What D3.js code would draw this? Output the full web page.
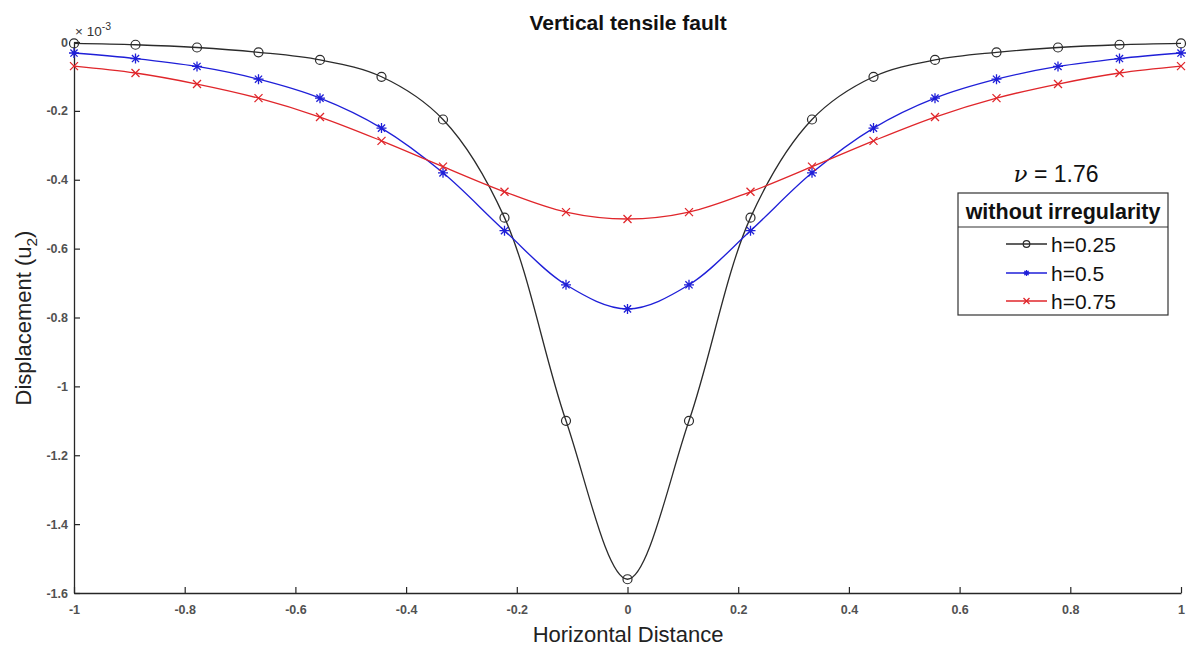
<!DOCTYPE html>
<html><head><meta charset="utf-8">
<script src="https://cdn.jsdelivr.net/npm/d3@7"></script>
<style>
body{margin:0;background:#fff;}
text{font-family:"Liberation Sans",Arial,Helvetica,sans-serif;}
</style></head>
<body><svg id="chart" width="1188" height="648"></svg>
<script>
// Data (values in units of 1e-3)
const xValues = [-1,-8/9,-7/9,-6/9,-5/9,-4/9,-3/9,-2/9,-1/9,0,1/9,2/9,3/9,4/9,5/9,6/9,7/9,8/9,1];
const h025 = [-0.004,-0.008,-0.016,-0.03,-0.052,-0.101,-0.225,-0.51,-1.10,-1.56,-1.10,-0.51,-0.225,-0.101,-0.052,-0.03,-0.016,-0.008,-0.004];
const h05  = [-0.032,-0.048,-0.071,-0.108,-0.163,-0.25,-0.38,-0.548,-0.705,-0.775,-0.705,-0.548,-0.38,-0.25,-0.163,-0.108,-0.071,-0.048,-0.032];
const h075 = [-0.07,-0.09,-0.122,-0.163,-0.218,-0.287,-0.362,-0.435,-0.494,-0.514,-0.494,-0.435,-0.362,-0.287,-0.218,-0.163,-0.122,-0.09,-0.07];
const seriesNames = ["h=0.25","h=0.5","h=0.75"];
const xTicks = [-1,-0.8,-0.6,-0.4,-0.2,0,0.2,0.4,0.6,0.8,1];
const yTicks = [0,-0.2,-0.4,-0.6,-0.8,-1,-1.2,-1.4,-1.6];

const series = [
  {name:seriesNames[0], values:h025, color:"#2b2b2b", marker:"circle"},
  {name:seriesNames[1], values:h05, color:"#1f1fd8", marker:"star"},
  {name:seriesNames[2], values:h075, color:"#e0262b", marker:"cross"}
];

const svg = d3.select("#chart");
const L=74, R=1181, T=42, B=593;
const x = d3.scaleLinear().domain([-1,1]).range([L,R]);
const y = d3.scaleLinear().domain([-1.6,0]).range([B,T]);
const axisColor = "#262626";
const fmt = v => (Math.round(v*10)/10).toString();

// x axis
const gx = svg.append("g").attr("transform",`translate(0,${B})`)
  .call(d3.axisBottom(x).tickValues(xTicks).tickSizeInner(-6).tickSizeOuter(0).tickPadding(12).tickFormat(fmt));
// y axis
const gy = svg.append("g").attr("transform",`translate(${L},0)`)
  .call(d3.axisLeft(y).tickValues(yTicks).tickSizeInner(-6).tickSizeOuter(0).tickPadding(6).tickFormat(fmt));
[gx,gy].forEach(g=>{
  g.select(".domain").attr("stroke",axisColor).attr("stroke-width",1.3);
  g.selectAll(".tick line").attr("stroke",axisColor).attr("stroke-width",1.2);
  g.selectAll(".tick text").attr("fill","#333").attr("font-size",12.5).attr("font-weight","bold").attr("opacity",0.85);
});

// exponent label
const ex = svg.append("text").attr("x",L+1).attr("y",T-6).attr("font-size",13.5).attr("fill","#333");
ex.append("tspan").text("\u00d7 10");
ex.append("tspan").attr("dy",-6).attr("font-size",10.5).text("-3");

// lines
const line = d3.line().x((d,i)=>x(xValues[i])).y(d=>y(d)).curve(d3.curveCatmullRom.alpha(0.5));
const plot = svg.append("g");
function drawMarker(g, type, cx, cy, color, s){
  if(type==="circle"){
    g.append("circle").attr("cx",cx).attr("cy",cy).attr("r",s).attr("fill","none").attr("stroke",color).attr("stroke-width",1.2);
  } else if(type==="star"){
    const p = d3.path();
    p.moveTo(cx-s,cy); p.lineTo(cx+s,cy);
    p.moveTo(cx,cy-s); p.lineTo(cx,cy+s);
    const d=s*0.72;
    p.moveTo(cx-d,cy-d); p.lineTo(cx+d,cy+d);
    p.moveTo(cx-d,cy+d); p.lineTo(cx+d,cy-d);
    g.append("path").attr("d",p.toString()).attr("stroke",color).attr("stroke-width",1.3).attr("fill","none");
  } else {
    const p = d3.path(); const d=s;
    p.moveTo(cx-d,cy-d); p.lineTo(cx+d,cy+d);
    p.moveTo(cx-d,cy+d); p.lineTo(cx+d,cy-d);
    g.append("path").attr("d",p.toString()).attr("stroke",color).attr("stroke-width",1.3).attr("fill","none");
  }
}
series.forEach(s=>{
  plot.append("path").datum(s.values).attr("d",line).attr("fill","none").attr("stroke",s.color).attr("stroke-width",1.3);
  const mg = plot.append("g");
  s.values.forEach((v,i)=>drawMarker(mg,s.marker,x(xValues[i]),y(v),s.color, s.marker==="circle"?4.5:(s.marker==="star"?5:4)));
});

// title
svg.append("text").attr("x",628).attr("y",30).attr("text-anchor","middle").attr("font-size",21).attr("font-weight","bold").attr("fill","#111").text("Vertical tensile fault");
// axis labels
svg.append("text").attr("x",628).attr("y",642).attr("text-anchor","middle").attr("font-size",22).attr("fill","#222").text("Horizontal Distance");
const yl = svg.append("text").attr("transform","translate(31,318) rotate(-90)").attr("text-anchor","middle").attr("font-size",22).attr("fill","#222");
yl.append("tspan").text("Displacement (u");
yl.append("tspan").attr("font-size",15.5).attr("dy",6).text("2");
yl.append("tspan").attr("dy",-6).text(")");

// nu annotation
const nu = svg.append("text").attr("x",1056).attr("y",182).attr("text-anchor","middle").attr("font-size",23).attr("fill","#111");
nu.append("tspan").attr("font-style","italic").attr("font-family","'DejaVu Serif',serif").text("\u03bd");
nu.append("tspan").text(" = 1.76");

// legend
const lg = svg.append("g");
lg.append("rect").attr("x",958).attr("y",193).attr("width",210).attr("height",122).attr("fill","#fff").attr("stroke","#333").attr("stroke-width",1.2);
lg.append("line").attr("x1",958).attr("x2",1168).attr("y1",227).attr("y2",227).attr("stroke","#333").attr("stroke-width",1.2);
lg.append("text").attr("x",1063).attr("y",219).attr("text-anchor","middle").attr("font-size",21.5).attr("font-weight","bold").attr("fill","#111").text("without irregularity");
const rowsY=[244,273,301];
series.forEach((s,i)=>{
  const yy=rowsY[i];
  lg.append("line").attr("x1",1006).attr("x2",1047).attr("y1",yy).attr("y2",yy).attr("stroke",s.color).attr("stroke-width",1.3);
  drawMarker(lg,s.marker,1026.5,yy,s.color,s.marker==="circle"?3.3:3);
  lg.append("text").attr("x",1051).attr("y",yy+7.5).attr("font-size",21).attr("fill","#111").text(s.name);
});
</script></body></html>
